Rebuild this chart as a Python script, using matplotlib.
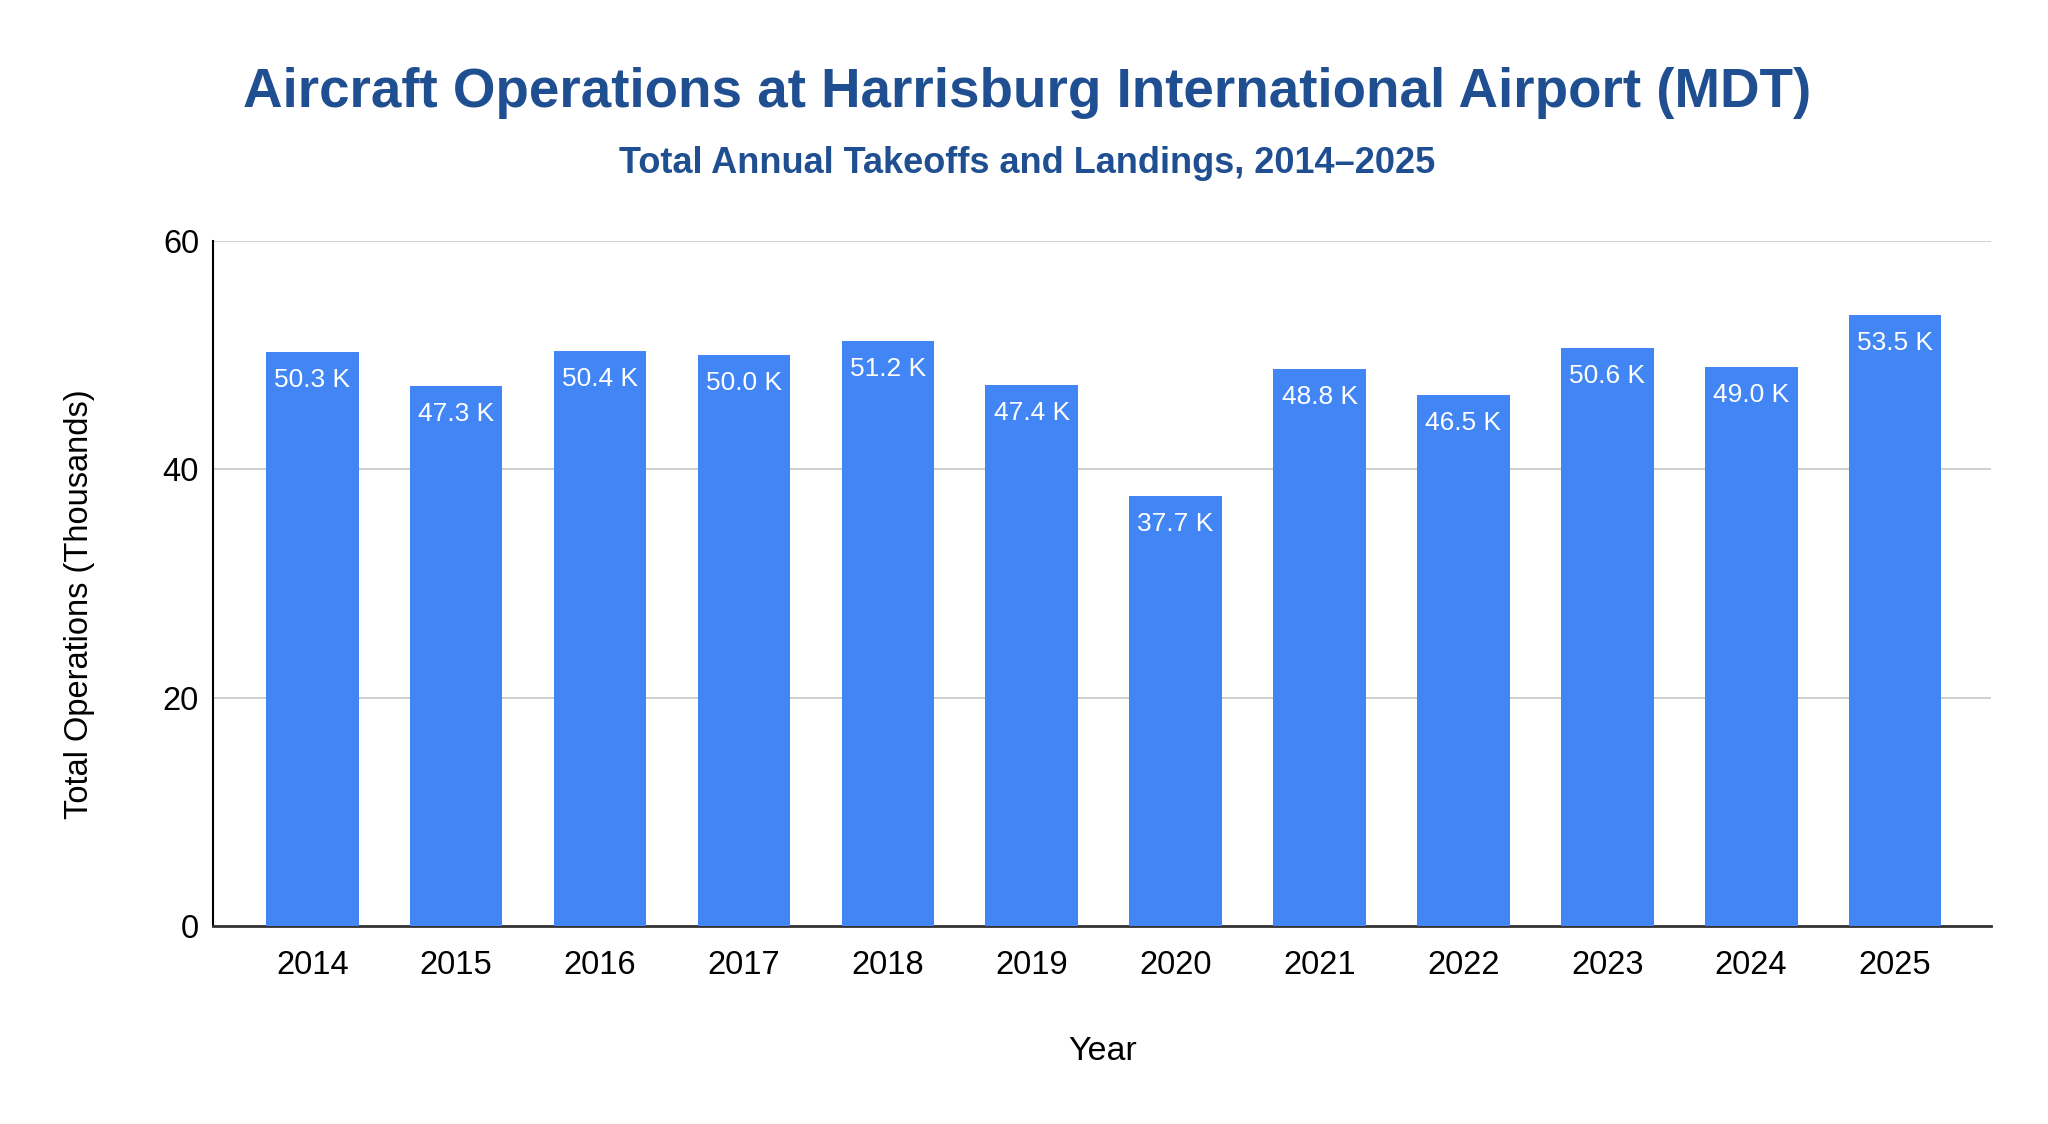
import matplotlib.pyplot as plt
import numpy as np

plt.rcParams['font.family'] = ['Liberation Sans', 'DejaVu Sans']

# data
years = ['2014', '2015', '2016', '2017', '2018', '2019',
         '2020', '2021', '2022', '2023', '2024', '2025']
operations_k = [50.3, 47.3, 50.4, 50.0, 51.2, 47.4,
                37.7, 48.8, 46.5, 50.6, 49.0, 53.5]
y_ticks = [0, 20, 40, 60]

title = 'Aircraft Operations at Harrisburg International Airport (MDT)'
subtitle = 'Total Annual Takeoffs and Landings, 2014\u20132025'

bar_color = '#4285F4'
title_color = '#1F4E91'

fig = plt.figure(figsize=(20.48, 11.24), dpi=100)
ax = fig.add_axes([0.104, 0.1762, 0.8684, 0.6094])

x = np.arange(len(years))
bars = ax.bar(x, operations_k, width=0.644, color=bar_color, zorder=3)

for rect, val in zip(bars, operations_k):
    ax.annotate(f'{val:.1f} K', (rect.get_x() + rect.get_width() / 2, rect.get_height()),
                xytext=(0, -11.5), textcoords='offset points',
                ha='center', va='top', color='white', fontsize=19, zorder=4)

ax.set_xlim(-0.69, len(years) - 0.33)
ax.set_ylim(0, 60)
ax.set_yticks(y_ticks)
ax.set_xticks(x)
ax.set_xticklabels(years)
ax.tick_params(axis='both', length=0, labelsize=23.5, colors='black')
ax.tick_params(axis='x', pad=17)
ax.tick_params(axis='y', pad=10)
ax.yaxis.grid(True, color='#cccccc', linewidth=1.3, zorder=0)

for side in ['top', 'right']:
    ax.spines[side].set_visible(False)
ax.spines['left'].set_color('black')
ax.spines['left'].set_linewidth(1.5)
ax.spines['bottom'].set_color('#333333')
ax.spines['bottom'].set_linewidth(2)

ax.set_xlabel('Year', fontsize=24.5, va='center')
ax.xaxis.set_label_coords(0.5, -0.183)
ax.set_ylabel('Total Operations (Thousands)', fontsize=23.5, va='center')
ax.yaxis.set_label_coords(-0.075, 0.47)

fig.text(0.5015, 0.905, title, ha='center', va='baseline', fontsize=39.4,
         fontweight='bold', color=title_color)
fig.text(0.5015, 0.846, subtitle, ha='center', va='baseline', fontsize=26,
         fontweight='bold', color=title_color)

fig.savefig('out.png', dpi=100)
